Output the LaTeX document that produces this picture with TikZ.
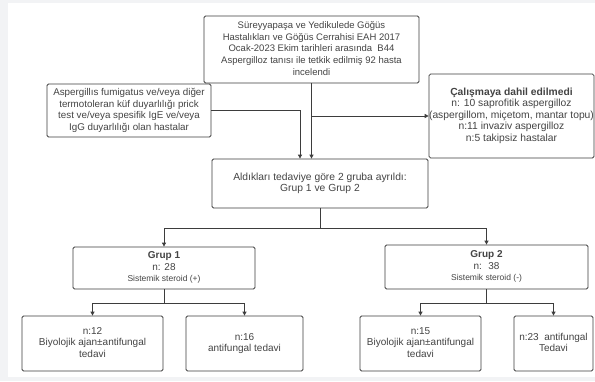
\documentclass[tikz,border=0pt]{standalone}
\usepackage{fontspec}
\setmainfont{Liberation Sans}
\usepackage{tikz}
\usetikzlibrary{arrows.meta}

\definecolor{boxline}{HTML}{3D3D3D}
\definecolor{txt}{HTML}{444444}
\definecolor{page}{HTML}{F2F3F5}

% centred lines of a box
\newcommand{\lines}[1]{\begin{tabular}{@{}c@{}}#1\end{tabular}}

\begin{document}
\begin{tikzpicture}[x=1pt,y=-1pt,
    box/.style={draw=boxline, rounded corners=1.5pt, line width=0.8pt, fill=white,
      text=txt, inner sep=0pt, minimum width=#1,
      font=\fontsize{10}{11.6}\selectfont},
    big/.style={font=\fontsize{10.3}{11.6}\selectfont},
    link/.style={draw=boxline, line width=0.8pt, -{Triangle[length=4pt,width=4pt]}}]
  \useasboundingbox (0,0) rectangle (595,381);
  \fill[page] (0,0) rectangle (595,381);
  \fill[white] (8,3) rectangle (595,377);

  % upper part
  \node[box=215pt, minimum height=67pt, font=\fontsize{9.5}{11.6}\selectfont] (scan) at (311.5,49.5)
    {\lines{Süreyyapaşa ve Yedikulede Göğüs\\Hastalıkları ve Göğüs Cerrahisi EAH 2017\\
     Ocak-2023 Ekim tarihleri arasında \ B44\\Aspergilloz tanısı ile tetkik edilmiş 92 hasta\\incelendi}};
  \node[box=164pt, minimum height=53pt, font=\fontsize{9.8}{11.6}\selectfont] (sens) at (129,110.5)
    {\lines{Aspergillıs fumigatus ve/veya diğer\\termotoleran küf duyarlılığı prick\\
     test ve/veya spesifik IgE ve/veya\\IgG duyarlılığı olan hastalar}};
  \node[box=163pt, big, minimum height=84pt] (excl) at (511.5,116)
    {\lines{\textbf{Çalışmaya dahil edilmedi}\\n: 10 saprofitik aspergilloz\\
     (aspergillom, miçetom, mantar topu)\\n:11 invaziv aspergilloz\\n:5 takipsiz hastalar}};
  \node[box=216pt, big, minimum height=49pt] (plan) at (320,183.5)
    {\lines{Aldıkları tedaviye göre 2 gruba ayrıldı:\\Grup 1 ve Grup 2}};

  % groups
  \node[box=182pt, minimum height=42pt] (g1) at (164,268)
    {\lines{\textbf{Grup 1}\\n: 28\\\fontsize{8.5}{10}\selectfont Sistemik steroid (+)}};
  \node[box=203pt, minimum height=44pt] (g2) at (486.5,267)
    {\lines{\textbf{Grup 2}\\n: \ 38\\\fontsize{8.5}{10}\selectfont Sistemik steroid (-)}};

  % treatments
  \node[box=141pt, minimum height=55pt] (b1) at (92.5,343.5)
    {\lines{n:12\\Biyolojik ajan±antifungal\\tedavi}};
  \node[box=117pt, minimum height=55pt] (b2) at (244.5,343.5)
    {\lines{n:16\\antifungal tedavi}};
  \node[box=121pt, minimum height=55pt] (b3) at (420.5,343.5)
    {\lines{n:15\\Biyolojik ajan±antifungal\\tedavi}};
  \node[box=79pt, minimum height=55pt] (b4) at (553.5,343.5)
    {\lines{n:23 \ antifungal\\Tedavi}};

  \draw[link] (scan.south) -- (scan.south |- plan.north);
  \draw[link] (scan.south |- excl.west) -- (excl.west);
  \draw[link] (sens.east) -| ([xshift=-20pt]plan.north);

  \draw[link] (plan.south) -- ++(0,20) -| (g1.north);
  \draw[link] (plan.south) ++(0,20) -| (g2.north);

  \draw[link] (g1.south) -- ++(0,14) -| (b1.north);
  \draw[link] (g1.south) ++(0,14) -| (b2.north);
  \draw[link] (g2.south) -- ++(0,14) -| (b3.north);
  \draw[link] (g2.south) ++(0,14) -| (b4.north);
\end{tikzpicture}
\end{document}
